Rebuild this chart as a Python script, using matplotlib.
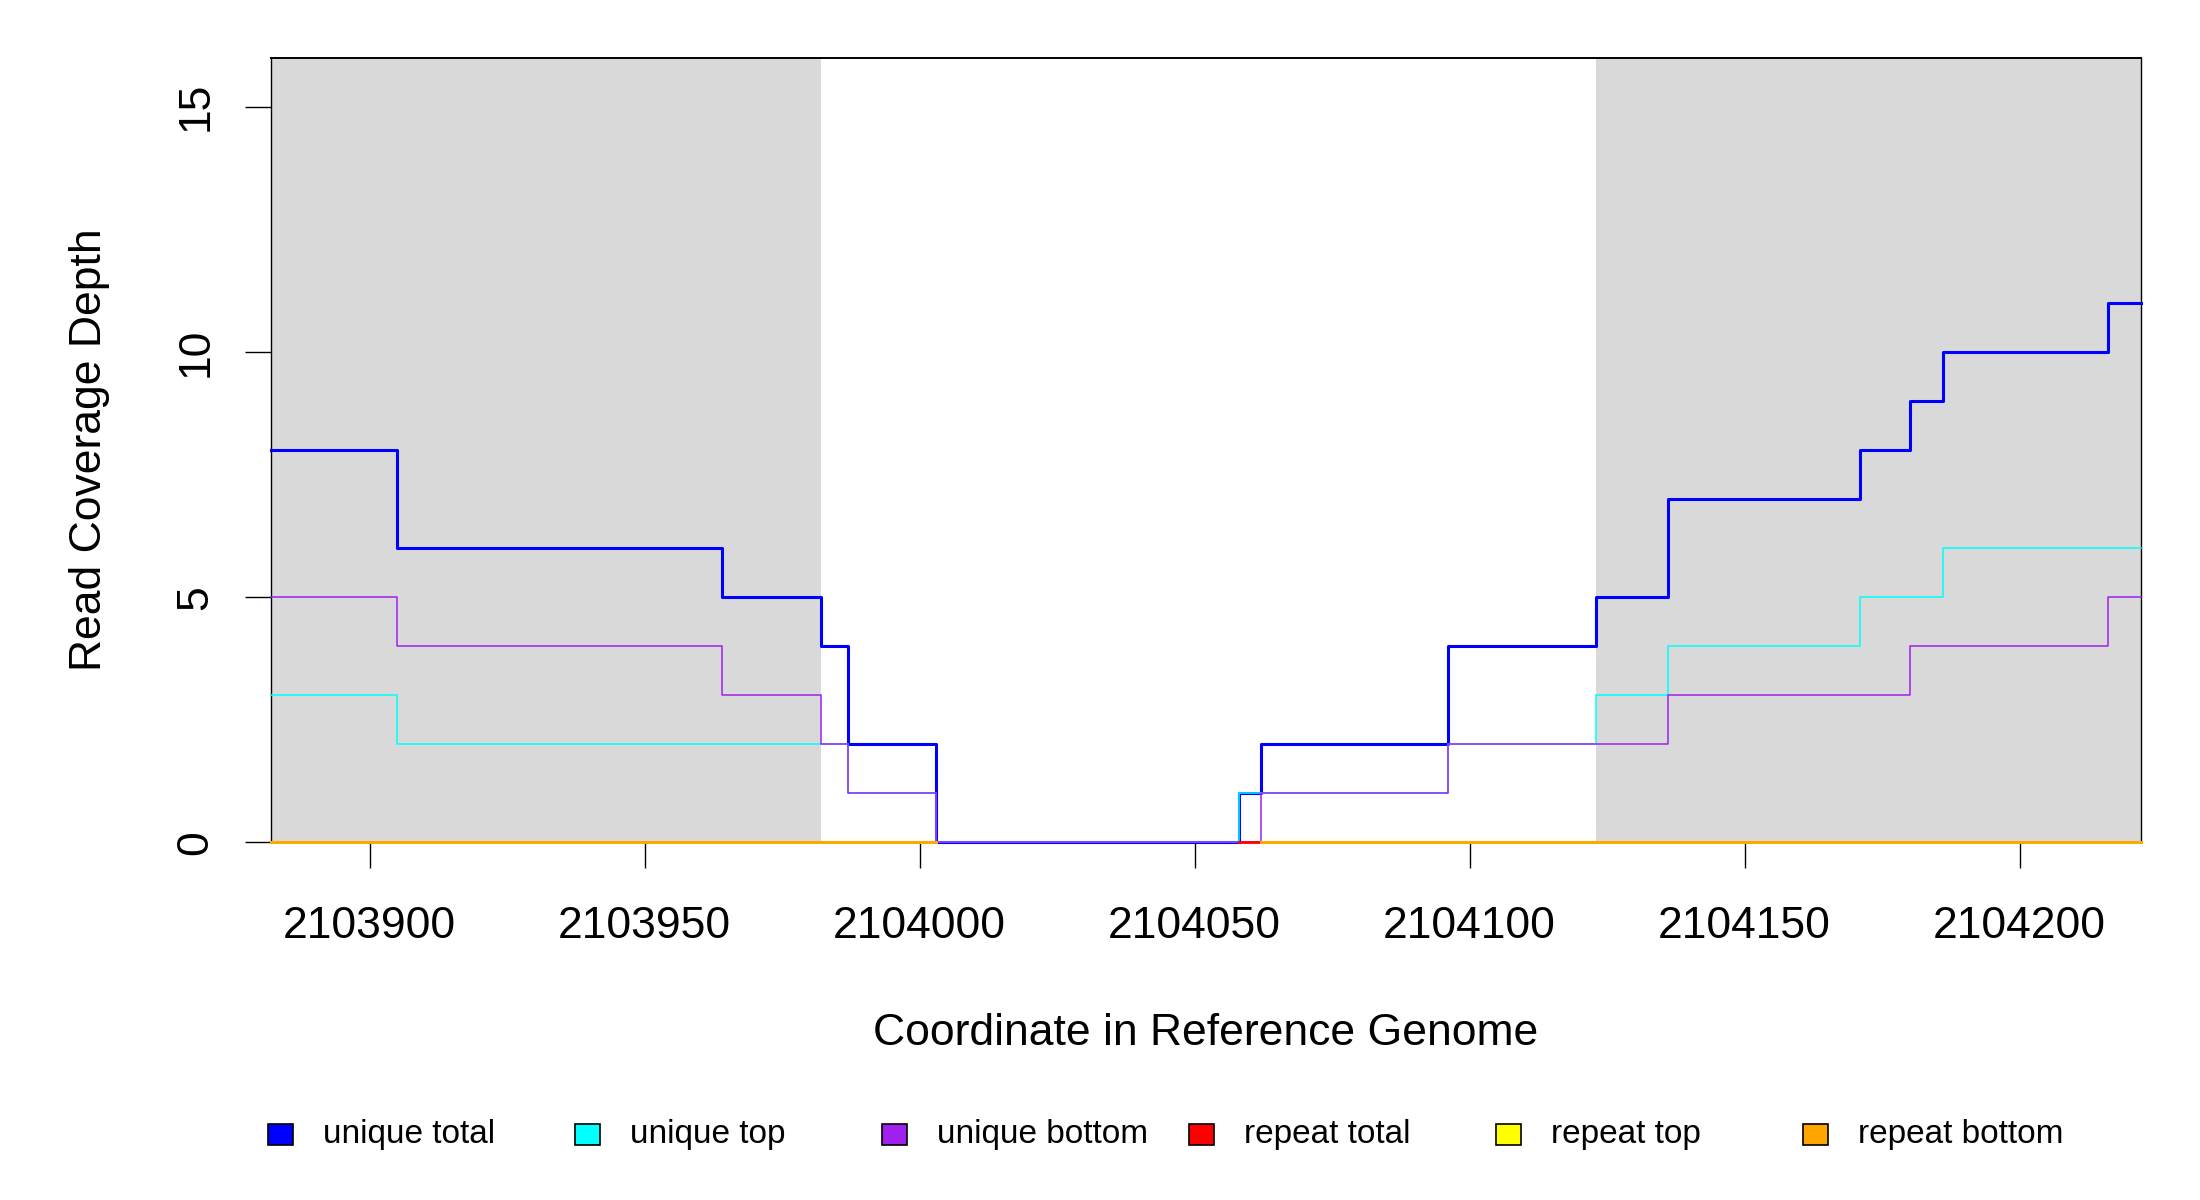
import numpy as np
import matplotlib.pyplot as plt
from matplotlib.patches import Rectangle

plt.rcParams['font.family'] = ['Liberation Sans', 'DejaVu Sans']

# step boundaries (genome coordinate) and per-segment coverage
edges = [2103882, 2103905, 2103964, 2103982, 2103987, 2104003, 2104058, 2104062,
         2104096, 2104123, 2104136, 2104171, 2104180, 2104186, 2104216, 2104222]
unique_total = [8, 6, 5, 4, 2, 0, 1, 2, 4, 5, 7, 8, 9, 10, 11]
unique_top = [3, 2, 2, 2, 1, 0, 1, 1, 2, 3, 4, 5, 5, 6, 6]
unique_bottom = [5, 4, 3, 2, 1, 0, 0, 1, 2, 2, 3, 3, 4, 4, 5]
nan = np.nan
repeat_total = [0, 0, 0, 0, 0, nan, 0, 0, 0, 0, 0, 0, 0, 0, 0]
repeat_top = [0, 0, 0, 0, 0, nan, nan, 0, 0, 0, 0, 0, 0, 0, 0]
repeat_bottom = [0, 0, 0, 0, 0, nan, nan, 0, 0, 0, 0, 0, 0, 0, 0]

# shaded regions
regions = [(2103882, 2103982), (2104123, 2104222)]

xticks = [2103900, 2103950, 2104000, 2104050, 2104100, 2104150, 2104200]
yticks = [0, 5, 10, 15]

series = [
    ("unique total", unique_total, "#0000FF", 2.2),
    ("unique top", unique_top, "#00FFFF", 1.1),
    ("unique bottom", unique_bottom, "#A020F0", 1.1),
    ("repeat total", repeat_total, "#FF0000", 2.0),
    ("repeat top", repeat_top, "#FFFF00", 2.0),
    ("repeat bottom", repeat_bottom, "#FFA500", 2.0),
]

fig = plt.figure(figsize=(22, 12), dpi=100)
ax = fig.add_axes([0.123, 0.298, 0.85, 0.654])

for a, b in regions:
    ax.axvspan(a, b, color="#D9D9D9", lw=0, zorder=0)

for name, vals, col, lw in series:
    y = list(vals) + [vals[-1]]
    ax.plot(edges, y, drawstyle="steps-post", color=col, lw=lw, zorder=3, clip_on=False)

ax.set_xlim(edges[0], edges[-1])
ax.set_ylim(0, 16)
ax.set_xticks(xticks)
ax.set_xticklabels([str(t) for t in xticks])
ax.set_yticks(yticks)
ax.tick_params(axis="x", length=19, width=1, pad=27, labelsize=32)
ax.tick_params(axis="y", length=19, width=1, pad=20, labelsize=32, labelrotation=90)
for lab in ax.get_yticklabels():
    lab.set_va("center")
for s in ax.spines.values():
    s.set_linewidth(1.0)
ax.spines["top"].set_linewidth(1.4)

ax.set_xlabel("Coordinate in Reference Genome", fontsize=32, va="center")
ax.xaxis.set_label_coords(0.5, -0.243)
ax.set_ylabel("Read Coverage Depth", fontsize=32, va="center")
ax.yaxis.set_label_coords(-0.097, 0.5)

# legend row along the bottom, equal spacing like R's horiz legend
box_w, box_h = 25 / 2200, 21 / 1200
leg_y = 1 - 1134 / 1200
for i, (name, vals, col, lw) in enumerate(series):
    x0 = (268 + 307 * i) / 2200
    fig.add_artist(Rectangle((x0, leg_y - box_h / 2), box_w, box_h,
                             transform=fig.transFigure, facecolor=col,
                             edgecolor="black", lw=1.2))
    fig.text(x0 + 55 / 2200, leg_y, name, fontsize=24, va="center", ha="left")

fig.savefig("out.png", dpi=100)
